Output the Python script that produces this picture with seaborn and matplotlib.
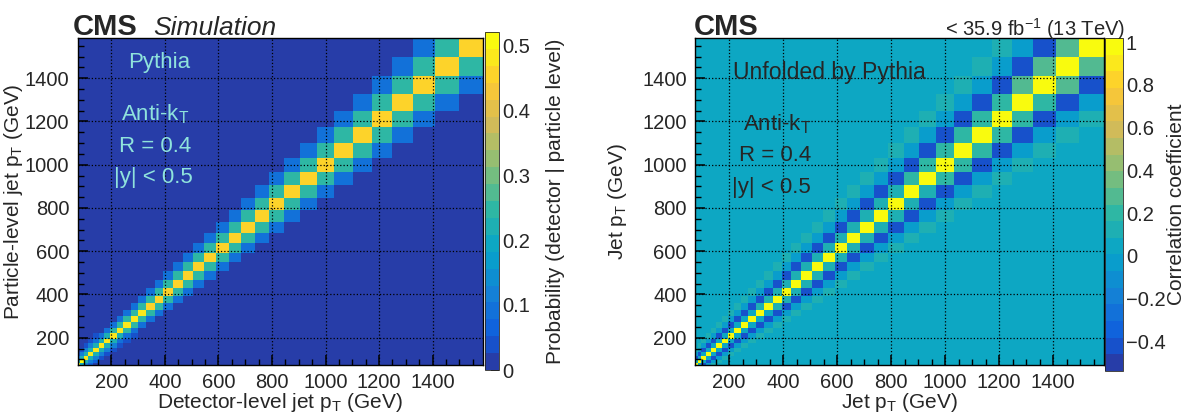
import numpy as np
import pandas as pd
import matplotlib
matplotlib.use('Agg')
import matplotlib.pyplot as plt
import seaborn as sns
from matplotlib.colors import ListedColormap, LinearSegmentedColormap
from matplotlib.ticker import MultipleLocator

# jet pT bin edges (GeV), same binning on both axes
pt_edges = [74, 84, 97, 114, 133, 153, 174, 196, 220, 245, 272, 300, 330, 362,
            395, 430, 468, 507, 548, 592, 638, 686, 737, 790, 846, 905, 967,
            1032, 1101, 1172, 1248, 1327, 1410, 1497, 1588]

# response matrix, one value per particle-level bin
resp_diag = [0.50, 0.50, 0.49, 0.49, 0.49, 0.48, 0.48, 0.48, 0.47, 0.47, 0.47, 0.47,
             0.46, 0.46, 0.46, 0.46, 0.46, 0.46, 0.46, 0.46, 0.45, 0.45, 0.45, 0.45,
             0.45, 0.45, 0.46, 0.45, 0.45, 0.45, 0.45, 0.45, 0.45, 0.45]
resp_side1 = [0.20, 0.21, 0.21, 0.22, 0.22, 0.23, 0.23, 0.23, 0.24, 0.24, 0.24, 0.24,
              0.24, 0.24, 0.25, 0.25, 0.25, 0.25, 0.25, 0.25, 0.25, 0.25, 0.25, 0.25,
              0.25, 0.25, 0.25, 0.25, 0.25, 0.25, 0.25, 0.25, 0.25, 0.25]
resp_side2 = [0.12, 0.12, 0.12, 0.11, 0.11, 0.11, 0.10, 0.10, 0.10, 0.10, 0.10, 0.09,
              0.09, 0.09, 0.09, 0.09, 0.09, 0.09, 0.09, 0.09, 0.09, 0.09, 0.09, 0.09,
              0.09, 0.09, 0.09, 0.09, 0.09, 0.09, 0.09, 0.09, 0.09, 0.09]
resp_side3 = [0.06, 0.06, 0.05, 0.05, 0.04, 0.04, 0.03, 0.03, 0.02, 0.02, 0.02, 0.02,
              0.01, 0.01, 0.01, 0.01, 0.01, 0.01, 0.01, 0.01, 0.01, 0.01, 0.01, 0.01,
              0.01, 0.01, 0.01, 0.01, 0.01, 0.01, 0.01, 0.01, 0.01, 0.01]
resp_background = 0.005

# correlation matrix of the unfolded spectrum
corr_diag = [1.0] * 34
corr_side1 = [0.04, 0.04, 0.04, 0.05, 0.05, 0.05, 0.05, 0.06, 0.06, 0.06, 0.08, 0.08,
              0.09, 0.09, 0.10, 0.10, 0.11, 0.11, 0.12, 0.12, 0.14, 0.14, 0.15, 0.16,
              0.16, 0.17, 0.18, 0.18, 0.20, 0.20, 0.22, 0.24, 0.24, 0.26]
corr_side2 = [-0.42, -0.42, -0.42, -0.42, -0.42, -0.42, -0.42, -0.42, -0.42, -0.42,
              -0.42, -0.42, -0.42, -0.42, -0.42, -0.42, -0.42, -0.42, -0.42, -0.42,
              -0.42, -0.42, -0.42, -0.42, -0.42, -0.42, -0.42, -0.42, -0.42, -0.42,
              -0.42, -0.42, -0.42, -0.42]
corr_side3 = [-0.03, -0.03, -0.03, -0.03, -0.03, -0.03, -0.03, -0.03, -0.03, -0.03,
              -0.03, -0.03, -0.03, -0.03, -0.03, -0.03, -0.03, -0.03, -0.03, -0.03,
              -0.03, -0.03, -0.03, -0.03, -0.03, -0.03, -0.03, -0.03, -0.03, -0.03,
              -0.03, -0.03, -0.03, -0.03]
corr_side4 = [0.12, 0.12, 0.12, 0.12, 0.12, 0.12, 0.12, 0.12, 0.12, 0.12, 0.12, 0.12,
              0.12, 0.12, 0.12, 0.12, 0.12, 0.12, 0.12, 0.12, 0.10, 0.10, 0.10, 0.10,
              0.10, 0.10, 0.10, 0.10, 0.10, 0.10, 0.10, 0.10, 0.10, 0.10]
corr_side5 = [0.06, 0.06, 0.06, 0.06, 0.06, 0.06, 0.06, 0.06, 0.06, 0.06, 0.06, 0.06,
              0.05, 0.05, 0.05, 0.05, 0.05, 0.05, 0.05, 0.05, 0.04, 0.04, 0.04, 0.04,
              0.04, 0.04, 0.04, 0.04, 0.04, 0.04, 0.04, 0.04, 0.04, 0.04]
corr_background = 0.02

# ROOT kBird palette
bird_stops = [0.0, 0.125, 0.25, 0.375, 0.5, 0.625, 0.75, 0.875, 1.0]
bird_red = [0.2082, 0.0592, 0.0780, 0.0232, 0.1802, 0.5301, 0.8186, 0.9956, 0.9764]
bird_green = [0.1664, 0.3599, 0.5041, 0.6419, 0.7178, 0.7492, 0.7328, 0.7862, 0.9832]
bird_blue = [0.5293, 0.8684, 0.8385, 0.7914, 0.6425, 0.4662, 0.3499, 0.1968, 0.0539]


def root_palette(n_levels=20):
    base = LinearSegmentedColormap.from_list(
        'bird', list(zip(bird_stops, zip(bird_red, bird_green, bird_blue))), N=255)
    idx = [int((k + 0.99) * 255 / n_levels) for k in range(n_levels)]
    return ListedColormap([base(i) for i in idx])


def band_matrix(diag, sides, background):
    n = len(diag)
    mat = np.full((n, n), background)
    for i in range(n):
        mat[i, i] = diag[i]
        for k, side in enumerate(sides, start=1):
            for j in (i - k, i + k):
                if 0 <= j < n:
                    mat[i, j] = side[i]
    return mat


def to_frame(mat):
    centers = [(lo + hi) / 2 for lo, hi in zip(pt_edges[:-1], pt_edges[1:])]
    xx, yy = np.meshgrid(centers, centers)
    return pd.DataFrame({'x': xx.ravel(), 'y': yy.ravel(), 'w': mat.ravel()})


sns.set_style('white')
plt.rcParams['font.family'] = ['Liberation Sans', 'DejaVu Sans']
plt.rcParams['mathtext.fontset'] = 'custom'
plt.rcParams['mathtext.rm'] = 'Liberation Sans'
plt.rcParams['mathtext.it'] = 'Liberation Sans:italic'
plt.rcParams['axes.unicode_minus'] = True

W, H = 1197, 420
fig = plt.figure(figsize=(W / 100, H / 100), dpi=100)


def px_box(x0, y0, x1, y1):
    return [x0 / W, 1 - y1 / H, (x1 - x0) / W, (y1 - y0) / H]


def fig_text(x, y, s, **kw):
    fig.text(x / W, 1 - y / H, s, **kw)


cmap = root_palette(20)
ptT = r'p$_{\mathrm{T}}$'

panels = [
    dict(mat=band_matrix(resp_diag, [resp_side1, resp_side2, resp_side3], resp_background),
         ax=px_box(77.5, 37.5, 483, 365), cax=px_box(484.5, 32, 499, 370),
         vmin=0, vmax=0.52, cticks=[0, 0.1, 0.2, 0.3, 0.4, 0.5],
         xlabel=f'Detector-level jet {ptT} (GeV)', ylabel=f'Particle-level jet {ptT} (GeV)',
         clabel='Probability (detector | particle level)', ylab_x=-0.157, clab_x=4.9),
    dict(mat=band_matrix(corr_diag, [corr_side1, corr_side2, corr_side3, corr_side4, corr_side5],
                         corr_background),
         ax=px_box(695, 37.5, 1104, 365), cax=px_box(1105, 38, 1123, 371),
         vmin=-0.54, vmax=1.02, cticks=[-0.4, -0.2, 0, 0.2, 0.4, 0.6, 0.8, 1],
         xlabel=f'Jet {ptT} (GeV)', ylabel=f'Jet {ptT} (GeV)',
         clabel='Correlation coefficient', ylab_x=-0.19, clab_x=4.0),
]

for p in panels:
    ax = fig.add_axes(p['ax'])
    cax = fig.add_axes(p['cax'])
    sns.histplot(data=to_frame(p['mat']), x='x', y='y', weights='w', bins=pt_edges,
                 thresh=None, cmap=cmap, vmin=p['vmin'], vmax=p['vmax'],
                 cbar=True, cbar_ax=cax, ax=ax)
    ax.set_xlim(pt_edges[0], pt_edges[-1])
    ax.set_ylim(pt_edges[0], pt_edges[-1])
    ax.set_xticks(range(200, 1401, 200))
    ax.set_yticks(range(200, 1401, 200))
    ax.xaxis.set_minor_locator(MultipleLocator(50))
    ax.yaxis.set_minor_locator(MultipleLocator(50))
    ax.tick_params(which='both', direction='in', top=False, right=False,
                   bottom=True, left=True, color='black')
    ax.tick_params(which='major', length=7, width=1.1, labelsize=14.5, pad=6)
    ax.tick_params(which='minor', length=4, width=1.0)
    ax.grid(True, which='major', linestyle=':', color='black', linewidth=0.9)
    ax.set_axisbelow(False)
    for sp in ax.spines.values():
        sp.set_color('black')
        sp.set_linewidth(1.0)
    ax.set_xlabel(p['xlabel'], fontsize=15)
    ax.set_ylabel(p['ylabel'], fontsize=15)
    ax.xaxis.set_label_coords(0.5, -0.115)
    ax.xaxis.label.set_va('center')
    ax.yaxis.set_label_coords(p['ylab_x'], 0.5)
    ax.yaxis.label.set_va('center')

    cb = ax.collections[0].colorbar
    cb.set_ticks(p['cticks'])
    cb.set_ticklabels([f'{t:g}'.replace('-', '\u2212') for t in p['cticks']])
    cb.outline.set_linewidth(0.6)
    cax.tick_params(direction='in', length=6, width=1.1, labelsize=14.5, pad=2,
                    color='black')
    cax.minorticks_off()
    cax.set_ylabel(p['clabel'], fontsize=15)
    cax.yaxis.set_label_coords(p['clab_x'], 0.5)
    cax.yaxis.label.set_va('center')

# left panel annotations
fig_text(73, 35, 'CMS', fontsize=21, fontweight='bold', va='baseline')
fig_text(153, 35, 'Simulation', fontsize=19, fontstyle='italic', va='baseline')
aqua = '#8fe3dc'
fig_text(159, 68, 'Pythia', fontsize=16, color=aqua, ha='center', va='baseline')
fig_text(155, 120, r'Anti-k$_{\mathrm{T}}$', fontsize=16, color=aqua, ha='center', va='baseline')
fig_text(155, 152, 'R = 0.4', fontsize=16, color=aqua, ha='center', va='baseline')
fig_text(153, 183, '|y| < 0.5', fontsize=16, color=aqua, ha='center', va='baseline')

# right panel annotations
fig_text(694, 35, 'CMS', fontsize=21, fontweight='bold', va='baseline')
fig_text(1125, 36, r'< 35.9 fb$^{\mathrm{-1}}$ (13 TeV)', fontsize=14.5, ha='right', va='baseline')
fig_text(733, 79, 'Unfolded by Pythia', fontsize=16.6, ha='left', va='baseline')
fig_text(777, 130, r'Anti-k$_{\mathrm{T}}$', fontsize=16, ha='center', va='baseline')
fig_text(775, 161, 'R = 0.4', fontsize=16, ha='center', va='baseline')
fig_text(771, 193, '|y| < 0.5', fontsize=16, ha='center', va='baseline')

fig.savefig('out.png', dpi=100)
